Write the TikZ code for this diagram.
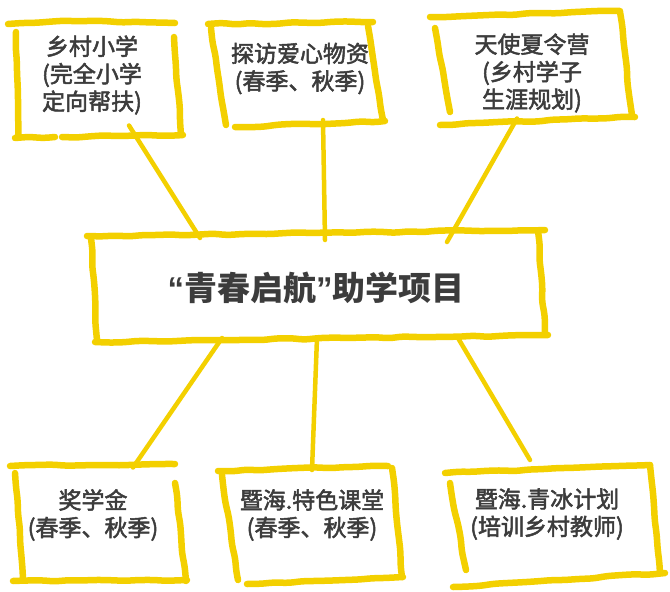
\documentclass[tikz,border=0pt]{standalone}
\usepackage{fontspec}
\usetikzlibrary{calc,decorations.pathmorphing}
\newfontfamily\cjk[FakeBold=2.2]{Noto Sans CJK SC}
\newfontfamily\cjkb{Noto Sans CJK SC}
\newfontfamily\latq{Liberation Sans}
\definecolor{yel}{RGB}{243,208,0}
\definecolor{ink}{RGB}{60,60,60}
\tikzset{
  sk/.style={draw=yel, line width=6.5pt, line cap=round, line join=round,
    decorate, decoration={random steps, segment length=14pt, amplitude=0.9pt}, rounded corners=5pt},
  conn/.style={draw=yel, line width=4.5pt, line cap=round},
  frame/.style={draw=none, inner sep=0pt, outer sep=0pt},
  lbl/.style={text=ink, align=center, font=\cjk\fontsize{23}{27.5}\selectfont, inner sep=0pt},
  big/.style={text=ink, align=center, font=\cjkb\bfseries\fontsize{33}{38}\selectfont, inner sep=0pt}
}
\begin{document}
\begin{tikzpicture}[x=1pt,y=-1pt]
\pgfmathsetseed{7}
\useasboundingbox (0,0) rectangle (670,592);
% frames (invisible reference nodes)
\node[frame, minimum width=163pt, minimum height=115pt] (b1) at (98,80) {};
\node[frame, minimum width=155pt, minimum height=100pt] (b2) at (293,75) {};
\node[frame, minimum width=188pt, minimum height=105pt] (b3) at (531,67) {};
\node[frame, minimum width=452pt, minimum height=108pt] (c) at (318,286) {};
\node[frame, minimum width=158pt, minimum height=117pt] (b4) at (95,523) {};
\node[frame, minimum width=167pt, minimum height=112pt] (b5) at (311,528) {};
\node[frame, minimum width=198pt, minimum height=108pt] (b6) at (551,524) {};
% connectors
\draw[conn] ($(b1.south)+(31,-12)$) -- ($(c.north)+(-118,6)$);
\draw[conn] ($(b2.south)+(30,-5)$) -- ($(c.north)+(7,8)$);
\draw[conn] ($(b3.south)+(-14,-1)$) -- ($(c.north)+(129,10)$);
\draw[conn] ($(c.south)+(-96,-2)$) -- ($(b4.north)+(38,3)$);
\draw[conn] ($(c.south)+(-1,-2)$) -- ($(b5.north)+(1,-2)$);
\draw[conn] ($(c.south)+(140,-2)$) -- ($(b6.north)+(-21,-10)$);
% sketchy borders
% box 1
\draw[sk] (8,24) -- (60,21) -- (175,23);
\draw[sk] (16,32) -- (18,137);
\draw[sk] (174,37) -- (181,135);
\draw[sk] (15,138) -- (55,137);
\draw[sk] (62,137) -- (183,135);
% box 2
\draw[sk] (208,24) -- (373,22);
\draw[sk] (211,28) -- (226,125);
\draw[sk] (368,26) -- (383,120);
\draw[sk] (235,127) -- (385,121);
% box 3
\draw[sk] (430,17) -- (620,11);
\draw[sk] (435,28) -- (450,112);
\draw[sk] (620,12) -- (632,115);
\draw[sk] (440,125) -- (635,117);
% centre
\draw[sk] (87,236) -- (545,230);
\draw[sk] (91,238) -- (97,340);
\draw[sk] (538,231) -- (545,332);
\draw[sk] (95,342) -- (548,335);
% box 4
\draw[sk] (10,466) -- (175,464);
\draw[sk] (15,473) -- (23,580);
\draw[sk] (175,483) -- (186,581);
\draw[sk] (13,581) -- (187,580);
% box 5
\draw[sk] (218,471) -- (388,466);
\draw[sk] (222,475) -- (238,580);
\draw[sk] (392,468) -- (402,577);
\draw[sk] (247,584) -- (403,577);
% box 6
\draw[sk] (445,473) -- (650,465);
\draw[sk] (450,483) -- (466,570);
\draw[sk] (650,465) -- (660,573);
\draw[sk] (453,587) -- (665,573);
% texts
\node[lbl] (t1) at (92,75) {乡村小学\\(完全小学\\定向帮扶)};
\node[lbl] (t2) at (300,68.5) {探访爱心物资\\(春季、秋季)};
\node[lbl] (t3) at (532,73) {天使夏令营\\(乡村学子\\生涯规划)};
\node[big] (tc) at (316,288) {{\latq\bfseries “}青春启航{\latq\bfseries ”}助学项目};
\node[lbl] (t4) at (93,515) {奖学金\\(春季、秋季)};
\node[lbl] (t5) at (312,515) {暨海.特色课堂\\(春季、秋季)};
\node[lbl] (t6) at (547,514) {暨海.青冰计划\\(培训乡村教师)};
\end{tikzpicture}
\end{document}
